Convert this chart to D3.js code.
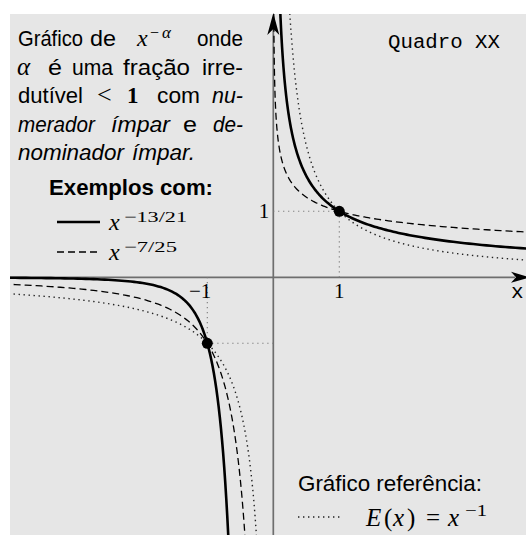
<!DOCTYPE html>
<html>
<head>
<meta charset="utf-8">
<script src="https://cdn.jsdelivr.net/npm/d3@7"></script>
<style>
  body { margin: 0; background: #fff; }
  svg { display: block; }
</style>
</head>
<body>
<div id="chart"></div>
<script>
// chart values
const seriesNames = ["x^(-13/21)", "x^(-7/25)", "E(x) = x^(-1)"];
const positiveExponents = [13 / 21, 7 / 25, 1];
const negativeExponents = [25 / 7, 21 / 13, 1];
const markedX = [1, -1];
const markedY = [1, -1];
const tickValues = [-1, 1];

const width = 526, height = 535;
const panel = { left: 10, top: 14 };
const unit = 66;
const origin = { x: 273.3, y: 277.3 };

const svg = d3.select("#chart").append("svg")
    .attr("width", width)
    .attr("height", height);

const x = d3.scaleLinear().domain([-4, 4]).range([origin.x - 4 * unit, origin.x + 4 * unit]);
const y = d3.scaleLinear().domain([-4, 4]).range([origin.y + 4 * unit, origin.y - 4 * unit]);

svg.append("rect")
    .attr("x", panel.left).attr("y", panel.top)
    .attr("width", width - panel.left).attr("height", height - panel.top)
    .attr("fill", "#e6e6e6");

svg.append("clipPath").attr("id", "clip")
    .append("rect")
    .attr("x", panel.left).attr("y", panel.top)
    .attr("width", width - panel.left).attr("height", height - panel.top);

// axes
const axisColor = "#6e6e6e";
svg.append("line")
    .attr("x1", panel.left).attr("x2", 515)
    .attr("y1", y(0)).attr("y2", y(0))
    .attr("stroke", axisColor).attr("stroke-width", 1.7);
svg.append("line")
    .attr("x1", x(0)).attr("x2", x(0))
    .attr("y1", height).attr("y2", 26)
    .attr("stroke", axisColor).attr("stroke-width", 1.7);

svg.append("path")
    .attr("d", `M${x(0)},13 L${x(0) - 6},35 L${x(0)},29 L${x(0) + 6},35 Z`)
    .attr("fill", "#000");
svg.append("path")
    .attr("d", `M530,${y(0)} L511,${y(0) - 5.5} L516,${y(0)} L511,${y(0) + 5.5} Z`)
    .attr("fill", "#000");

svg.append("text")
    .attr("x", 511).attr("y", 298)
    .attr("font-family", "Liberation Mono, monospace")
    .attr("font-size", 21)
    .text("x");

// guide lines to the marked points
const guides = svg.append("g")
    .attr("stroke", "#7a7a7a").attr("stroke-width", 1.1)
    .attr("stroke-dasharray", "1.2,3.8");
markedX.forEach((mx, i) => {
    guides.append("line")
        .attr("x1", x(mx)).attr("x2", x(mx))
        .attr("y1", y(markedY[i])).attr("y2", y(0));
    guides.append("line")
        .attr("x1", x(mx)).attr("x2", x(0))
        .attr("y1", y(markedY[i])).attr("y2", y(markedY[i]));
});

// tick labels
const tickFont = "Liberation Serif, serif";
svg.selectAll(".xtick")
    .data(tickValues)
    .enter().append("text")
    .attr("class", "xtick")
    .attr("x", d => x(d) + (d < 0 ? 4 : 0))
    .attr("y", 298)
    .attr("text-anchor", d => d < 0 ? "end" : "middle")
    .attr("font-family", tickFont)
    .attr("font-size", 21)
    .text(d => d < 0 ? "\u2212" + Math.abs(d) : d);

svg.append("text")
    .attr("x", x(0) - 4).attr("y", y(1) + 7)
    .attr("text-anchor", "end")
    .attr("font-family", tickFont)
    .attr("font-size", 21)
    .text(tickValues[1]);

// curves
const styles = [
    { width: 2.6, dash: null, color: "#000" },
    { width: 1.3, dash: "7,4", color: "#000" },
    { width: 1.4, dash: "1.4,3.6", color: "#222" }
];

const samples = d3.range(0, 1.00001, 0.002).map(t => Math.pow(10, -4 + t * 4.62));

const line = d3.line()
    .x(d => x(d[0]))
    .y(d => y(d[1]));

const curves = svg.append("g").attr("clip-path", "url(#clip)");

seriesNames.forEach((name, i) => {
    const pos = samples.map(s => [s, Math.pow(s, -positiveExponents[i])])
        .filter(d => Math.abs(d[1]) < 8);
    const neg = samples.map(s => [-s, -Math.pow(s, -negativeExponents[i])])
        .filter(d => Math.abs(d[1]) < 8);
    [pos, neg].forEach(branch => {
        curves.append("path")
            .datum(branch)
            .attr("d", line)
            .attr("fill", "none")
            .attr("stroke", styles[i].color)
            .attr("stroke-width", styles[i].width)
            .attr("stroke-dasharray", styles[i].dash);
    });
});

svg.selectAll(".mark")
    .data(markedX)
    .enter().append("circle")
    .attr("class", "mark")
    .attr("cx", d => x(d))
    .attr("cy", (d, i) => y(markedY[i]))
    .attr("r", 5.5)
    .attr("fill", "#000");

// text pieces
const sans = "Liberation Sans, Arial, sans-serif";
const serif = "Liberation Serif, serif";

function piece(str, px, py, opt = {}) {
    const t = svg.append("text")
        .attr("x", px).attr("y", py)
        .attr("font-family", opt.family || sans)
        .attr("font-size", opt.size || 22)
        .attr("fill", "#000")
        .text(str);
    if (opt.italic) t.attr("font-style", "italic");
    if (opt.bold) t.attr("font-weight", "bold");
    if (opt.len) t.attr("textLength", opt.len).attr("lengthAdjust", "spacingAndGlyphs");
    return t;
}

// description block
piece("Gráfico", 18, 46, { len: 65 });
piece("de", 90, 46, { len: 26 });
piece("x", 137, 46, { family: serif, italic: true, size: 24 });
piece("\u2212", 150, 38, { family: serif, size: 16 });
piece("\u03b1", 162, 38, { family: serif, italic: true, size: 17 });
piece("onde", 197, 46, { len: 46 });

piece("\u03b1", 17, 75, { family: serif, italic: true, size: 25 });
piece("é", 48, 75, { len: 14 });
piece("uma", 72, 75, { len: 41 });
piece("fração", 123, 75, { len: 67 });
piece("irre-", 202, 75, { len: 41 });

piece("dutível", 18, 103, { len: 65 });
piece("<", 97, 103, { family: serif, size: 26 });
piece("1", 127, 103, { family: serif, bold: true, size: 23 });
piece("com", 157, 103, { len: 43 });
piece("nu-", 212, 103, { italic: true, len: 31 });

piece("merador", 18, 132, { italic: true, len: 77 });
piece("ímpar", 111, 132, { italic: true, len: 59 });
piece("e", 183, 132, { len: 14 });
piece("de-", 213, 132, { italic: true, len: 30 });

piece("nominador", 18, 160, { italic: true, len: 106 });
piece("ímpar.", 132, 160, { italic: true, len: 63 });

piece("Exemplos com:", 49, 195, { bold: true, size: 22, len: 164 });

// legend
const legendRows = [222, 252];
[0, 1].forEach((i) => {
    svg.append("line")
        .attr("x1", 57).attr("x2", 100)
        .attr("y1", legendRows[i]).attr("y2", legendRows[i])
        .attr("stroke", styles[i].color)
        .attr("stroke-width", styles[i].width)
        .attr("stroke-dasharray", styles[i].dash);
});
piece("x", 109, 230, { family: serif, italic: true, size: 24 });
piece("\u221213/21", 124, 222, { family: serif, size: 15, len: 63 });
piece("x", 109, 260, { family: serif, italic: true, size: 24 });
piece("\u22127/25", 124, 252, { family: serif, size: 15, len: 53 });

piece("Quadro XX", 388, 48, { family: "Liberation Mono, monospace", size: 20, len: 112 });

// reference legend
piece("Gráfico referência:", 298, 491, { size: 22, len: 184 });
svg.append("line")
    .attr("x1", 298).attr("x2", 340)
    .attr("y1", 517).attr("y2", 517)
    .attr("stroke", styles[2].color)
    .attr("stroke-width", styles[2].width)
    .attr("stroke-dasharray", styles[2].dash);
piece("E", 366, 526, { family: serif, italic: true, size: 25 });
piece("(", 384, 526, { family: serif, size: 25 });
piece("x", 393, 526, { family: serif, italic: true, size: 25 });
piece(")", 407, 526, { family: serif, size: 25 });
piece("=", 426, 526, { family: serif, size: 25 });
piece("x", 448, 526, { family: serif, italic: true, size: 25 });
piece("\u22121", 465, 516, { family: serif, size: 17, len: 22 });
</script>
</body>
</html>
